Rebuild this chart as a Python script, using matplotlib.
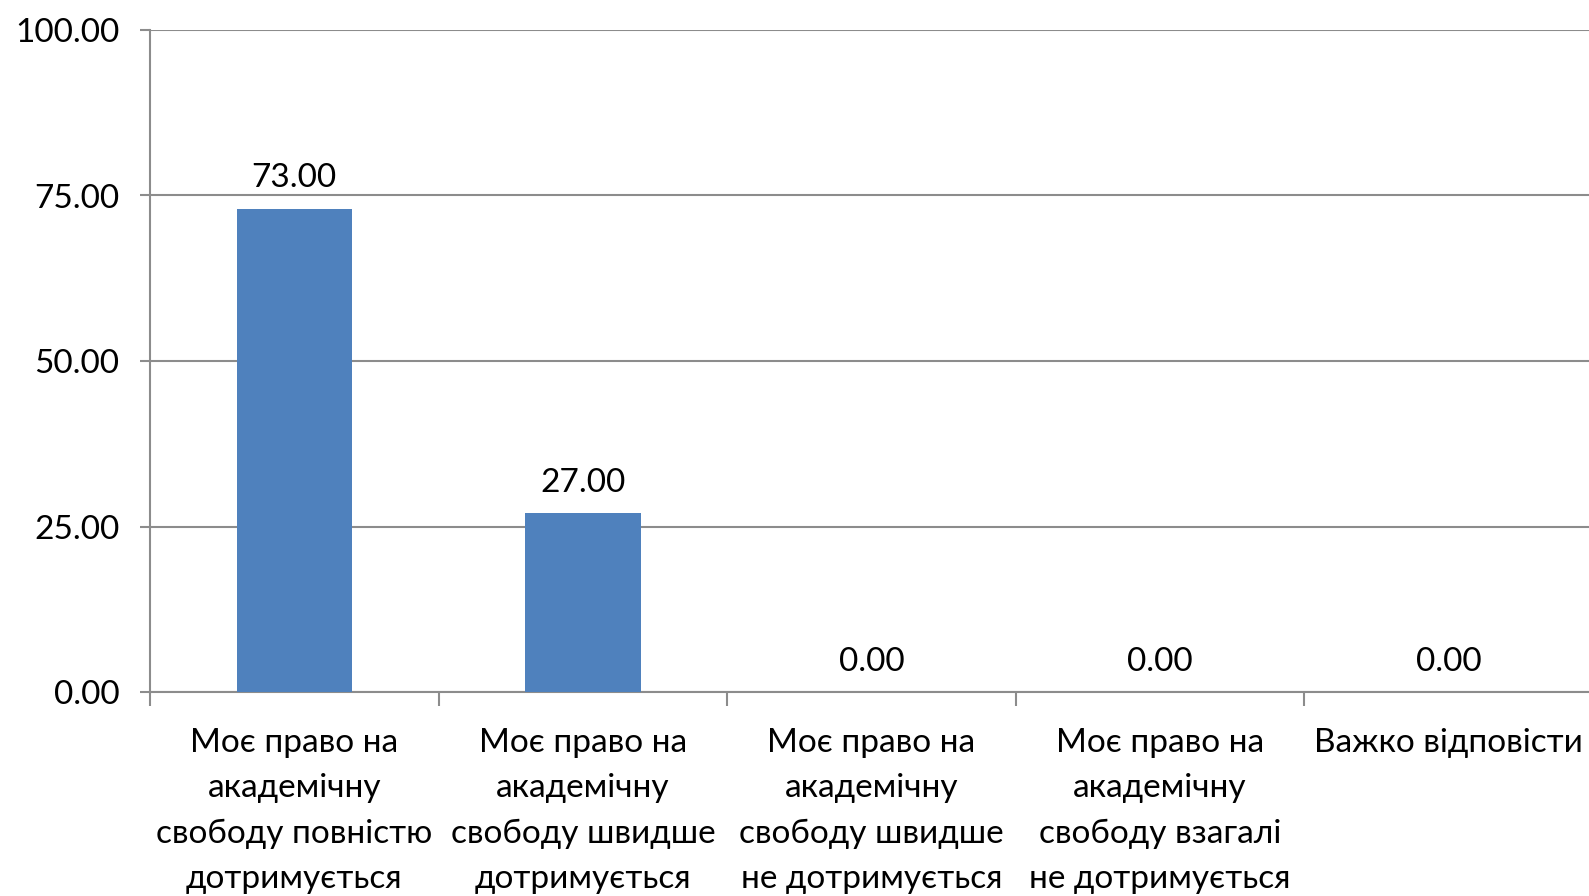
import matplotlib
matplotlib.use('Agg')
import matplotlib.pyplot as plt
import numpy as np

categories = [
    'Моє право на\nакадемічну\nсвободу повністю\nдотримується',
    'Моє право на\nакадемічну\nсвободу швидше\nдотримується',
    'Моє право на\nакадемічну\nсвободу швидше\nне дотримується',
    'Моє право на\nакадемічну\nсвободу взагалі\nне дотримується',
    'Важко відповісти',
]
values = [73.00, 27.00, 0.00, 0.00, 0.00]
y_ticks = [0, 25, 50, 75, 100]

BAR_COLOR = '#4F81BD'
GRID_COLOR = '#8c8c8c'
FS = 24

plt.rcParams['font.family'] = ['Lato', 'DejaVu Sans']

fig = plt.figure(figsize=(15.89, 8.96), dpi=100)
ax = fig.add_axes([150 / 1589, 1 - 692 / 896, 1443 / 1589, 662 / 896])

x = np.arange(len(categories))
ax.bar(x, values, width=0.40, color=BAR_COLOR, zorder=3)

for xi, v in zip(x, values):
    ax.annotate(f'{v:.2f}', (xi, v), xytext=(0, 11), textcoords='offset points',
                ha='center', va='bottom', fontsize=FS, color='black')

ax.set_xlim(-0.5, len(categories) - 0.5)
ax.set_ylim(0, 100)
ax.set_yticks(y_ticks)
ax.set_yticklabels([f'{t:.2f}' for t in y_ticks], fontsize=FS)
ax.yaxis.grid(True, color=GRID_COLOR, linewidth=1.5, zorder=0)

# category labels centred, tick marks at boundaries
ax.set_xticks(x)
ax.set_xticklabels(categories, fontsize=FS, linespacing=1.63)
ax.tick_params(axis='x', which='major', length=0, pad=26)
ax.set_xticks(np.arange(-0.5, len(categories), 1.0), minor=True)
ax.tick_params(axis='x', which='minor', length=10, width=1.5, color=GRID_COLOR)
ax.tick_params(axis='y', length=7, width=1.5, color=GRID_COLOR, pad=15)

for side in ['top', 'right']:
    ax.spines[side].set_visible(False)
for side in ['left', 'bottom']:
    ax.spines[side].set_color(GRID_COLOR)
    ax.spines[side].set_linewidth(1.5)

fig.savefig('out.png', dpi=100)
